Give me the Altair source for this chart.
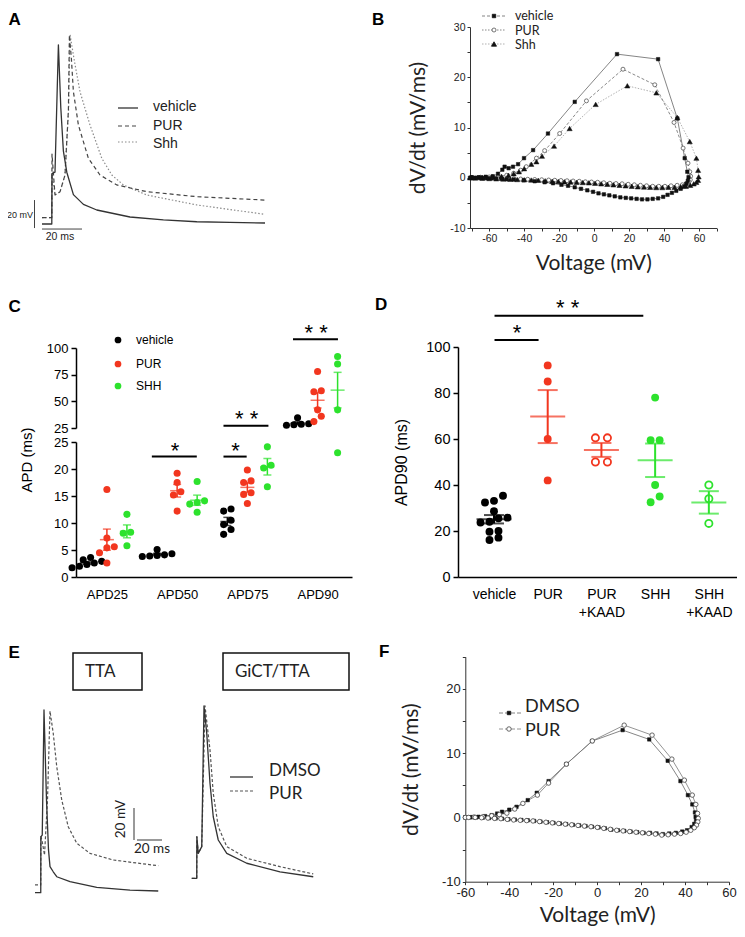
import altair as alt
import pandas as pd

# ======================= DATA =======================
# ---- Panel A : action potentials (time ms, membrane potential mV)
A_vehicle_t = [1, 5.9, 6.0, 7.5, 9.2, 10.4, 11.7, 13.4, 16.7, 21.7, 28.4, 45, 61.7, 78.4, 95, 112.5]
A_vehicle_v = [-70, -70, -34, -33, 58, 13, -18, -33, -49, -56, -60, -65, -67, -68.4, -68.8, -69.3]
A_PUR_t = [1, 5.9, 6.0, 7.5, 10, 12.5, 14.2, 14.7, 15.7, 16.7, 19.2, 24.2, 30, 38.4, 53.4, 78.4, 112.5]
A_PUR_v = [-65.5, -65.5, -20, -49.3, -47, -35, 11.4, 65, 48, 24.5, 0.7, -23.1, -35, -42.1, -46.9, -50.5, -52.9]
A_Shh_t = [1, 5.9, 6.0, 7.5, 10, 12.5, 14.3, 15.0, 17, 20, 25, 30.9, 35.9, 41.7, 53.4, 78.4, 112.5]
A_Shh_v = [-65.5, -65.5, -33.6, -49.3, -47, -35, 12, 65.5, 48, 24.5, 0.7, -23.1, -35, -42.1, -49.3, -56.4, -63.1]
A_scalebar_t = [-2.75, -2.75, 1, 21]
A_scalebar_v = [-52.9, -72.9, -73.6, -73.6]

# ---- Panel B : phase plots (Vm mV, dV/dt mV/ms)
B_vehicle_V = [-70, -66, -62, -58, -55, -52.5, -51.2, -48.9, -46.4, -43.5, -40.1, -34.9, -26.4, -11.1, 13.1,
               36.6, 47.6, 51.8, 53.3, 54.0,
               53.6, 52.8, 51.5, 49.5, 47.0, 44.5, 42.0, 39.5, 36.6, 33.5, 30.5, 27.4, 24.3, 21.2, 18.1,
               15.0, 11.8, 8.7, 5.6, 2.5, -0.6, -3.9, -7.5, -11.1, -14.9, -18.7, -23.5, -28.3, -34.0,
               -40.3, -46.0, -50.0, -53.1, -56.0, -58.5, -61.0, -63.0, -65.0, -67.0, -69.0, -71.0]
B_vehicle_dV = [0.1, 0.1, 0.2, 0.3, 0.8, 1.6, 2.2, 1.9, 2.2, 2.7, 3.9, 5.5, 8.8, 15.1, 24.6,
                23.6, 11.8, 3.9, 1.2, 0.1,
                -0.6, -1.2, -1.7, -2.2, -2.6, -3.0, -3.4, -3.8, -4.1, -4.2, -4.3, -4.3, -4.2, -4.1, -4.0,
                -3.9, -3.7, -3.5, -3.3, -3.1, -2.8, -2.5, -2.2, -1.9, -1.6, -1.4, -1.1, -0.9, -0.7,
                -0.5, -0.35, -0.3, -0.2, -0.15, -0.1, -0.1, -0.05, 0, 0, 0, 0]
B_PUR_V = [-70, -65, -60, -55, -50, -46, -42, -38.8, -33.0, -28.3, -19.7, -4.4, 16.5, 34.7, 45.7, 50.9,
           53.7, 54.7, 55.2,
           55.0, 54.2, 52.8, 50.5, 47.5, 44.0, 40.5, 37.0, 33.5, 30.0, 26.5, 23.0, 19.5, 16.0, 12.5,
           9.0, 5.5, 2.0, -1.5, -5.0, -8.5, -12.0, -15.5, -19.0, -22.5, -26.0, -30.0, -34.0, -38.0,
           -42.0, -46.0, -50.0, -54.0, -58.0, -62.0, -66.0, -70.0]
B_PUR_dV = [0.05, 0.1, 0.15, 0.25, 0.5, 0.9, 1.5, 2.2, 3.9, 5.4, 8.8, 15.3, 21.6, 18.5, 11.0, 5.9,
            2.9, 1.2, 0.3,
            -0.4, -0.8, -1.1, -1.4, -1.5, -1.6, -1.7, -1.7, -1.7, -1.6, -1.5, -1.4, -1.3, -1.2, -1.15,
            -1.1, -1.0, -0.9, -0.85, -0.8, -0.7, -0.65, -0.6, -0.55, -0.5, -0.45, -0.4, -0.35, -0.3,
            -0.25, -0.2, -0.15, -0.1, -0.05, 0, 0, 0]
B_Shh_V = [-70, -64, -58, -53, -49, -46, -43, -40, -35.9, -33.0, -29.8, -22.9, -14.0, 0.9, 19.0, 35.6,
           47.6, 54.7, 58.5, 59.5, 59.8,
           59.5, 58.5, 57.0, 55.0, 52.5, 49.5, 46.0, 42.5, 39.0, 35.5, 32.0, 28.5, 25.0, 21.5, 18.0,
           14.5, 11.0, 7.5, 4.0, 0.5, -3.0, -6.5, -10.0, -13.5, -17.0, -20.5, -24.0, -28.0, -32.0,
           -36.0, -40.0, -44.0, -48.0, -52.0, -56.0, -60.0, -64.0, -68.0, -71.0]
B_Shh_dV = [0.05, 0.1, 0.2, 0.3, 0.5, 0.8, 1.2, 1.8, 2.7, 3.2, 4.3, 6.3, 9.8, 14.6, 18.3, 16.9,
            12.0, 7.2, 3.9, 1.5, 0.2,
            -0.5, -0.9, -1.2, -1.5, -1.7, -1.8, -1.9, -1.9, -1.95, -1.95, -1.9, -1.85, -1.8, -1.7, -1.6,
            -1.5, -1.4, -1.3, -1.2, -1.1, -1.0, -0.95, -0.9, -0.85, -0.8, -0.75, -0.7, -0.6, -0.5,
            -0.45, -0.4, -0.35, -0.3, -0.25, -0.2, -0.15, -0.1, -0.05, 0]

# ---- Panel C : APD (ms), per parameter and group
C_categories = ["APD25", "APD50", "APD75", "APD90"]
C_vehicle_APD25 = [1.7, 2.0, 2.3, 2.6, 2.9, 3.2, 3.6]
C_vehicle_APD50 = [3.8, 3.9, 4.0, 4.1, 4.3, 5.1]
C_vehicle_APD75 = [7.9, 8.8, 9.7, 10.5, 12.2, 12.6]
C_vehicle_APD90 = [27.5, 28.0, 28.5, 29.0, 34.5]
C_PUR_APD25 = [16.2, 7.2, 5.6, 5.4, 4.5, 2.6]
C_PUR_APD50 = [19.2, 17.5, 15.8, 15.2, 12.2]
C_PUR_APD75 = [19.8, 17.8, 17.5, 15.6, 15.3, 13.6]
C_PUR_APD90 = [78, 60, 59, 42, 36, 31]
C_SHH_APD25 = [11.6, 8.3, 8.1, 5.8]
C_SHH_APD50 = [17.7, 14.1, 13.8, 13.5, 12.0]
C_SHH_APD75 = [24.1, 20.7, 20.2, 16.7]
C_SHH_APD90 = [92, 85, 42, 23]

# ---- Panel D : APD90 (ms)
D_categories = ["vehicle", "PUR", "PUR+KAAD", "SHH", "SHH+KAAD"]
D_vehicle = [35.3, 33.1, 32.4, 28.6, 25.8, 25.5, 24.0, 23.7, 20.0, 19.7, 17.1, 16.1]
D_PUR = [92, 85, 60, 42]
D_PUR_KAAD = [60.5, 60.5, 50, 50]
D_SHH = [78, 59.5, 59.5, 40, 35, 32.5]
D_SHH_KAAD = [40, 34, 23.3]

# ---- Panel E : APs (time ms, mV)
E_TTA_DMSO_t = [0, 4.6, 4.7, 5.8, 7.2, 9.2, 10.8, 12.0, 14.6, 17.4, 28.0, 49.4, 76.0, 98.6]
E_TTA_DMSO_v = [-70, -70, -33.9, -32.8, 47.9, -10.2, -42.4, -53.2, -56.5, -59.7, -62.9, -66.5, -68.3, -68.9]
E_TTA_PUR_t = [0, 4.6, 4.7, 6.0, 7.6, 10.0, 12.0, 14.6, 17.4, 21.4, 26.6, 33.4, 44.0, 62.6, 98.6]
E_TTA_PUR_v = [-65, -65, -33.4, -38, -45.7, -10.2, 47.2, 32.8, 11.3, -10.2, -27.4, -38.1, -44.6, -48.9, -52.6]
E_GiCT_DMSO_t = [1.4, 5.4, 5.5, 6.6, 9.4, 11.2, 13.4, 16.0, 18.6, 22.6, 29.4, 45.4, 72.0, 98.6]
E_GiCT_DMSO_v = [-60.7, -60.7, -33.9, -44.6, -40.3, 50.5, 32.8, 0.6, -21.0, -36.0, -44.6, -51.0, -56.5, -59.7]
E_GiCT_PUR_t = [1.4, 5.4, 5.5, 6.6, 9.4, 12.0, 16.0, 18.6, 22.6, 29.4, 45.4, 72.0, 98.6]
E_GiCT_PUR_v = [-60.7, -60.7, -33.9, -44.6, -40.3, 50.5, 22.1, -5.8, -27.4, -40.3, -47.8, -53.2, -57.9]
E_scalebar_t = [79.2, 79.2, 81.6, 101.6]
E_scalebar_v = [-15.4, -36.0, -36.0, -36.0]

# ---- Panel F : phase plots
F_DMSO_V = [-60, -57, -54, -51, -48, -45.5, -43.3, -40, -36.7, -31.6, -27.5, -22.1, -14.0, -2.3, 11.6,
            23.7, 32.1, 37.9, 41.3, 43.3, 44.5, 44.8,
            45.0, 44.2, 43.0, 40.9, 38.7, 35.8, 32.8, 29.9, 27.0, 24.0, 21.1, 18.2, 15.2, 12.3, 9.4,
            6.4, 3.5, 0.6, -2.4, -5.3, -8.2, -11.1, -14.1, -17.0, -19.9, -22.8, -25.8, -28.7, -31.6,
            -34.5, -37.5, -40.4, -43.3, -46.2, -49.2, -52.1, -55.0, -58.0, -60.0]
F_DMSO_dV = [0, 0.05, 0.1, 0.2, 0.35, 0.6, 0.88, 1.2, 1.65, 2.69, 3.83, 5.65, 8.29, 11.87, 13.58,
             12.13, 8.81, 5.65, 3.47, 2.02, 0.77, 0.1,
             -0.4, -1.0, -1.5, -2.0, -2.2, -2.4, -2.5, -2.6, -2.5, -2.4, -2.4, -2.3, -2.2, -2.1, -2.0,
             -1.9, -1.7, -1.55, -1.45, -1.35, -1.25, -1.15, -1.05, -0.95, -0.85, -0.75, -0.65, -0.55,
             -0.45, -0.4, -0.35, -0.3, -0.2, -0.15, -0.1, -0.05, 0, 0, 0]
F_PUR_V = [-60, -56, -52, -48, -44.5, -41.1, -37.5, -33.8, -27.2, -22.1, -14.0, -2.2, 12.3, 25.0, 34.0,
           39.7, 43.3, 44.9, 45.7, 46.0,
           45.8, 45.2, 44.2, 42.6, 40.5, 38.0, 35.2, 32.3, 29.4, 26.5, 23.5, 20.6, 17.7, 14.8, 11.8,
           8.9, 6.0, 3.0, 0.1, -2.8, -5.8, -8.7, -11.6, -14.5, -17.5, -20.4, -23.3, -26.2, -29.2,
           -32.1, -35.0, -38.0, -40.9, -43.8, -46.7, -49.7, -52.6, -55.5, -58.5]
F_PUR_dV = [0, 0.05, 0.1, 0.25, 0.45, 0.66, 1.3, 2.18, 3.47, 5.34, 8.29, 11.9, 14.35, 12.8, 9.07,
            5.8, 3.47, 2.02, 0.62, -0.15,
            -0.7, -1.2, -1.6, -2.0, -2.3, -2.5, -2.6, -2.7, -2.75, -2.6, -2.5, -2.4, -2.3, -2.2, -2.1,
            -2.0, -1.85, -1.7, -1.55, -1.45, -1.35, -1.25, -1.15, -1.05, -0.95, -0.85, -0.75, -0.65,
            -0.55, -0.5, -0.45, -0.4, -0.3, -0.2, -0.15, -0.1, -0.05, 0, 0]

# ======================= LAYOUT / STYLE =======================
W, H = 729, 921


def P(v):
    return v - 8  # page pixel -> chart pixel


SANS = "Liberation Sans"
HUM = "Lato"
INK = "#222222"
RED = "#f2361f"
GREEN = "#2de22d"

layers = []


def one():
    return pd.DataFrame({"k": [0]})


def sc(domain, r0, r1):
    return alt.Scale(domain=list(domain), range=[P(r0), P(r1)], nice=False, zero=False)


def text(s, x, y, size, font=SANS, weight="normal", align="left", baseline="middle", angle=0, color=INK):
    mk = dict(text=s, fontSize=size, font=font, fontWeight=weight, align=align, baseline=baseline, color=color)
    if angle:
        mk["angle"] = angle
    return alt.Chart(one()).mark_text(**mk).encode(x=alt.value(P(x)), y=alt.value(P(y)))


def hseg(x1, x2, y, color, width=1.2, dash=None):
    mk = dict(color=color, strokeWidth=width)
    if dash:
        mk["strokeDash"] = dash
    return alt.Chart(one()).mark_rule(**mk).encode(x=alt.value(P(x1)), x2=alt.value(P(x2)), y=alt.value(P(y)))


def sym(x, y, shape, size, fill, stroke, sw=0.8):
    return alt.Chart(one()).mark_point(shape=shape, size=size, filled=True, fill=fill, stroke=stroke,
                                       strokeWidth=sw, opacity=1).encode(x=alt.value(P(x)), y=alt.value(P(y)))


def path(xs, ys, xsc, ysc, color, width=1.2, dash=None, xaxis=None, yaxis=None):
    df = pd.DataFrame({"x": xs, "y": ys, "i": list(range(len(xs)))})
    mk = dict(color=color, strokeWidth=width, strokeJoin="round")
    if dash:
        mk["strokeDash"] = dash
    return alt.Chart(df).mark_line(**mk).encode(
        x=alt.X("x:Q", scale=xsc, axis=xaxis),
        y=alt.Y("y:Q", scale=ysc, axis=yaxis),
        order=alt.Order("i:Q"))


def pts(xs, ys, xsc, ysc, shape, size, fill, stroke, sw=0.8):
    df = pd.DataFrame({"x": xs, "y": ys})
    return alt.Chart(df).mark_point(shape=shape, size=size, filled=True, fill=fill, stroke=stroke,
                                    strokeWidth=sw, opacity=1).encode(
        x=alt.X("x:Q", scale=xsc, axis=None), y=alt.Y("y:Q", scale=ysc, axis=None))


def yax(xpage, values, **kw):
    d = dict(orient="left", offset=-P(xpage), values=values, grid=False, labelFlush=False, labelOverlap=False)
    d.update(kw)
    return alt.Axis(**d)


def xax(ypage, values, **kw):
    d = dict(orient="bottom", offset=P(ypage) - H, values=values, grid=False, labelFlush=False, labelOverlap=False)
    d.update(kw)
    return alt.Axis(**d)


# ---------- panel letters ----------
for s, x, y in [("A", 8.5, 24.5), ("B", 372, 24.5), ("C", 8.5, 312), ("D", 375, 310), ("E", 8.5, 658),
                ("F", 379, 657)]:
    layers.append(text(s, x, y, 17, weight="bold", align="left", baseline="alphabetic", color="#000"))

# ======================= PANEL A =======================
A_x = sc([0, 112.5], 40, 265)
A_y = sc([-70, 60], 224, 42)
layers += [
    path(A_Shh_t, A_Shh_v, A_x, A_y, "#8a8a8a", 1.2, [1.5, 2]),
    path(A_PUR_t, A_PUR_v, A_x, A_y, "#444", 1.2, [4, 3]),
    path(A_vehicle_t, A_vehicle_v, A_x, A_y, "#333", 1.3),
]
sbA = pd.DataFrame({"x": A_scalebar_t[0::2], "x2": A_scalebar_t[1::2],
                    "y": A_scalebar_v[0::2], "y2": A_scalebar_v[1::2]})
layers.append(alt.Chart(sbA).mark_rule(color="#444", strokeWidth=1).encode(
    x=alt.X("x:Q", scale=A_x, axis=None), x2="x2:Q",
    y=alt.Y("y:Q", scale=A_y, axis=None), y2="y2:Q"))
layers += [
    text("20 mV", 33, 215, 9, align="right"),
    text("20 ms", 60, 237, 10.5, align="center"),
    hseg(118, 138, 108, "#333", 1.3),
    hseg(118, 138, 126, "#444", 1.2, [4, 3]),
    hseg(118, 138, 142, "#8a8a8a", 1.2, [1.5, 2]),
    text("vehicle", 153, 107, 14),
    text("PUR", 153, 126, 14),
    text("Shh", 153, 144, 14),
]

# ======================= PANEL B =======================
B_x = sc([-71, 70], 470, 716.5)
B_y = sc([-10, 30], 228, 27)
axc = dict(domainColor="#333", tickColor="#333", labelColor=INK, tickSize=3, labelFont=SANS,
           titleFont=HUM, titleFontWeight="normal", titleColor=INK, titleFontSize=21)
bx_axis = xax(228, list(range(-70, 71, 10)), labelExpr="datum.value % 20 == 0 ? '' + datum.value : ''",
              title="Voltage (mV)", labelFontSize=10.5, labelPadding=2, titlePadding=9, **axc)
by_axis = yax(470, list(range(-10, 31, 5)), labelExpr="datum.value % 10 == 0 ? '' + datum.value : ''",
              title="dV/dt (mV/ms)", labelFontSize=10.5, labelPadding=2, titlePadding=21, **axc)
layers += [
    path(B_Shh_V, B_Shh_dV, B_x, B_y, "#a8a8a8", 0.9, [1.5, 1.5]),
    path(B_PUR_V, B_PUR_dV, B_x, B_y, "#7a7a7a", 0.9, [3, 2]),
    path(B_vehicle_V, B_vehicle_dV, B_x, B_y, "#777", 0.9, None, xaxis=bx_axis, yaxis=by_axis),
    pts(B_PUR_V, B_PUR_dV, B_x, B_y, "circle", 16, "white", "#555", 0.8),
    pts(B_Shh_V, B_Shh_dV, B_x, B_y, "triangle-up", 26, "#111", "#111", 0.5),
    pts(B_vehicle_V, B_vehicle_dV, B_x, B_y, "square", 12, "#111", "#111", 0.5),
]
layers += [
    hseg(482, 506, 16, "#777", 0.9, [3, 2]), sym(494, 16, "square", 12, "#111", "#111"),
    hseg(482, 506, 30, "#7a7a7a", 0.9, [1.5, 1.5]), sym(494, 30, "circle", 16, "white", "#555"),
    hseg(482, 506, 44, "#a8a8a8", 0.9, [1.5, 1.5]), sym(494, 44, "triangle-up", 26, "#111", "#111"),
    text("vehicle", 515, 16, 12.5, font=HUM),
    text("PUR", 515, 30.5, 12.5, font=HUM),
    text("Shh", 515, 45, 12.5, font=HUM),
]


# ======================= helpers for scatter panels =======================
def swarm(vals, ypix, diam, spacing):
    order = sorted(range(len(vals)), key=lambda i: vals[i])
    offs = [0.0] * len(vals)
    rows = []
    for i in order:
        yp = ypix(vals[i])
        if rows and abs(yp - rows[-1][0]) < diam * 0.9:
            rows[-1][1].append(i)
        else:
            rows.append([yp, [i]])
    for _, members in rows:
        n = len(members)
        for k, i in enumerate(members):
            offs[i] = (k - (n - 1) / 2) * spacing
    return offs


def mean_sem(vals):
    s = pd.Series(vals, dtype=float)
    m = s.mean()
    e = s.std(ddof=1) / (len(s) ** 0.5)
    return m, e


# ======================= PANEL C =======================
C_x = sc([-0.44, 3.49], 76, 352)
C_ylow = sc([0, 25], 577, 442)
C_yup = sc([25, 100], 428, 348)
C_ppu = (352 - 76) / (3.49 + 0.44)


def C_ypage(v):
    return 577 - v * 5.4 if v < 25 else 428 - (v - 25) * 80 / 75


C_groups = [("vehicle", "#000000", -0.285,
             [C_vehicle_APD25, C_vehicle_APD50, C_vehicle_APD75, C_vehicle_APD90]),
            ("PUR", RED, 0.0, [C_PUR_APD25, C_PUR_APD50, C_PUR_APD75, C_PUR_APD90]),
            ("SHH", GREEN, 0.285, [C_SHH_APD25, C_SHH_APD50, C_SHH_APD75, C_SHH_APD90])]
c_pts, c_err = [], []
for g, col, goff, lists in C_groups:
    for ci, vals in enumerate(lists):
        offs = swarm(vals, C_ypage, 7.3, 7.4)
        for v, o in zip(vals, offs):
            c_pts.append({"x": ci + goff + o / C_ppu, "y": v, "col": col, "seg": "up" if v >= 25 else "low"})
        m, e = mean_sem(vals)
        c_err.append({"x": ci + goff, "m": m, "lo": m - e, "hi": m + e, "col": col,
                      "seg": "up" if m >= 25 else "low"})
c_pts = pd.DataFrame(c_pts)
c_err = pd.DataFrame(c_err)

cax = dict(domainColor="#000", tickColor="#000", labelColor="#000", domainWidth=1.5, tickWidth=1.5,
           labelFont=SANS, labelFontSize=13, title=None)
c_x_axis = xax(577, [0, 1, 2, 3], labelExpr="['APD25','APD50','APD75','APD90'][datum.value]",
               ticks=False, labelPadding=11, labelFontSize=13, domainColor="#000", domainWidth=1.5,
               labelColor="#000", labelFont=SANS, title=None)
c_ylow_axis = yax(76, [0, 5, 10, 15, 20, 25], tickSize=5, labelPadding=3, **cax)
c_yup_axis = yax(76, [25, 50, 75, 100], tickSize=5, labelPadding=3, **cax)

for seg, ysc in [("low", C_ylow), ("up", C_yup)]:
    e = c_err[c_err.seg == seg]
    p = c_pts[c_pts.seg == seg]
    layers.append(alt.Chart(e).mark_rule(strokeWidth=1.5).encode(
        x=alt.X("x:Q", scale=C_x, axis=None), y=alt.Y("lo:Q", scale=ysc, axis=None), y2="hi:Q",
        color=alt.Color("col:N", scale=None)))
    for fld, sz in [("m", 14), ("lo", 8), ("hi", 8)]:
        layers.append(alt.Chart(e).mark_tick(orient="horizontal", size=sz, thickness=1.5).encode(
            x=alt.X("x:Q", scale=C_x, axis=None), y=alt.Y(f"{fld}:Q", scale=ysc, axis=None),
            color=alt.Color("col:N", scale=None)))
    layers.append(alt.Chart(p).mark_point(shape="circle", size=50, filled=True, opacity=1).encode(
        x=alt.X("x:Q", scale=C_x, axis=c_x_axis if seg == "low" else None),
        y=alt.Y("y:Q", scale=ysc, axis=c_ylow_axis if seg == "low" else c_yup_axis),
        color=alt.Color("col:N", scale=None)))

# significance bars C
C_sig_low = pd.DataFrame({"x": [0.64, 1.66], "x2": [1.28, 1.99], "y": [22.3, 22.3],
                          "sx": [0.97, 1.83], "sy": [24.3, 24.3], "s": ["*", "*"]})
C_sig_up = pd.DataFrame({"x": [1.66, 2.65], "x2": [2.30, 3.29], "y": [27.2, 108.1],
                         "sx": [1.99, 2.98], "sy": [38.1, 118.4], "s": ["* *", "* *"]})
for d, ysc in [(C_sig_low, C_ylow), (C_sig_up, C_yup)]:
    layers.append(alt.Chart(d).mark_rule(color="#000", strokeWidth=2).encode(
        x=alt.X("x:Q", scale=C_x, axis=None), x2="x2:Q", y=alt.Y("y:Q", scale=ysc, axis=None)))
    layers.append(alt.Chart(d).mark_text(font=SANS, fontSize=22, color="#000", baseline="alphabetic",
                                         dy=12).encode(
        x=alt.X("sx:Q", scale=C_x, axis=None), y=alt.Y("sy:Q", scale=ysc, axis=None), text="s:N"))

layers += [
    sym(118, 340, "circle", 45, "#000", "#000", 0), text("vehicle", 136, 340, 12, color="#000"),
    sym(118, 364, "circle", 45, RED, RED, 0), text("PUR", 136, 364, 12, color="#000"),
    sym(118, 386, "circle", 45, GREEN, GREEN, 0), text("SHH", 136, 386, 12, color="#000"),
    text("APD (ms)", 27, 460, 15, align="center", angle=270, color="#000"),
]

# ======================= PANEL D =======================
D_x = sc([-0.67, 4.58], 458, 740)
D_y = sc([0, 100], 577, 347)
D_groups = [(D_vehicle, "#000000", True), (D_PUR, RED, True), (D_PUR_KAAD, RED, False),
            (D_SHH, GREEN, True), (D_SHH_KAAD, GREEN, False)]
d_pts, d_err = [], []
for gi, (vals, col, filled) in enumerate(D_groups):
    offs = swarm(vals, lambda v: 577 - 2.3 * v, 8.0, 12.0 if not filled else 9.0)
    for v, o in zip(vals, offs):
        d_pts.append({"x": gi + o / 53.7, "y": v, "col": col, "filled": filled})
    m, e = mean_sem(vals)
    d_err.append({"x": gi, "m": m, "lo": m - e, "hi": m + e, "col": col})
d_pts = pd.DataFrame(d_pts)
d_err = pd.DataFrame(d_err)

d_x_axis = xax(577, [0, 1, 2, 3, 4],
               labelExpr="[['vehicle'],['PUR'],['PUR','+KAAD'],['SHH'],['SHH','+KAAD']][datum.value]",
               ticks=False, labelPadding=10, labelFontSize=14, labelLineHeight=18, domainColor="#000",
               domainWidth=1.5, labelColor="#000", labelFont=SANS, title=None)
d_y_axis = yax(458, [0, 20, 40, 60, 80, 100], tickSize=5, labelPadding=3, domainColor="#000",
               tickColor="#000", labelColor="#000", domainWidth=1.5, tickWidth=1.5, labelFont=SANS,
               labelFontSize=14.5, title="APD90 (ms)", titleFont=SANS, titleFontSize=16,
               titleFontWeight="normal", titleColor="#000", titlePadding=16)

layers.append(alt.Chart(d_err).mark_rule(strokeWidth=2).encode(
    x=alt.X("x:Q", scale=D_x, axis=None), y=alt.Y("lo:Q", scale=D_y, axis=None), y2="hi:Q",
    color=alt.Color("col:N", scale=None)))
for fld, sz in [("m", 35), ("lo", 20), ("hi", 20)]:
    layers.append(alt.Chart(d_err).mark_tick(orient="horizontal", size=sz, thickness=2).encode(
        x=alt.X("x:Q", scale=D_x, axis=None), y=alt.Y(f"{fld}:Q", scale=D_y, axis=None),
        color=alt.Color("col:N", scale=None)))
layers.append(alt.Chart(d_pts[d_pts.filled]).mark_point(shape="circle", size=62, filled=True, opacity=1).encode(
    x=alt.X("x:Q", scale=D_x, axis=d_x_axis), y=alt.Y("y:Q", scale=D_y, axis=d_y_axis),
    color=alt.Color("col:N", scale=None)))
layers.append(alt.Chart(d_pts[~d_pts.filled]).mark_point(shape="circle", size=52, filled=False,
                                                         strokeWidth=1.8, opacity=1).encode(
    x=alt.X("x:Q", scale=D_x, axis=None), y=alt.Y("y:Q", scale=D_y, axis=None),
    color=alt.Color("col:N", scale=None)))
D_sig = pd.DataFrame({"x": [0.01, 0.01], "x2": [0.83, 2.78], "y": [103.0, 113.6],
                      "sx": [0.43, 1.37], "sy": [108.1, 119.0], "s": ["*", "* *"]})
layers.append(alt.Chart(D_sig).mark_rule(color="#000", strokeWidth=2).encode(
    x=alt.X("x:Q", scale=D_x, axis=None), x2="x2:Q", y=alt.Y("y:Q", scale=D_y, axis=None)))
layers.append(alt.Chart(D_sig).mark_text(font=SANS, fontSize=22, color="#000", baseline="alphabetic",
                                         dy=12).encode(
    x=alt.X("sx:Q", scale=D_x, axis=None), y=alt.Y("sy:Q", scale=D_y, axis=None), text="s:N"))

# ======================= PANEL E =======================
E_y = sc([-70, 50], 892.7, 706.7)
E_xl = sc([0, 100], 35, 160)
E_xr = sc([0, 100], 190, 315)
layers += [
    path(E_TTA_PUR_t, E_TTA_PUR_v, E_xl, E_y, "#555", 1.2, [3, 2]),
    path(E_TTA_DMSO_t, E_TTA_DMSO_v, E_xl, E_y, "#333", 1.3),
    path(E_GiCT_PUR_t, E_GiCT_PUR_v, E_xr, E_y, "#555", 1.2, [3, 2]),
    path(E_GiCT_DMSO_t, E_GiCT_DMSO_v, E_xr, E_y, "#333", 1.3),
]
sbE = pd.DataFrame({"x": E_scalebar_t[0::2], "x2": E_scalebar_t[1::2],
                    "y": E_scalebar_v[0::2], "y2": E_scalebar_v[1::2]})
layers.append(alt.Chart(sbE).mark_rule(color="#555", strokeWidth=1.2).encode(
    x=alt.X("x:Q", scale=E_xl, axis=None), x2="x2:Q",
    y=alt.Y("y:Q", scale=E_y, axis=None), y2="y2:Q"))
for x1, x2, lab, tx in [(73, 142, "TTA", 85), (223, 349, "GiCT/TTA", 235)]:
    layers.append(alt.Chart(one()).mark_rect(fillOpacity=0, stroke="#111", strokeWidth=1.5).encode(
        x=alt.value(P(x1)), x2=alt.value(P(x2)), y=alt.value(P(653)), y2=alt.value(P(690))))
    layers.append(text(lab, tx, 672, 17, font=HUM))
layers += [
    text("20 mV", 121, 819, 13.5, font=HUM, align="center", angle=270),
    text("20 ms", 152, 849, 13.5, font=HUM, align="center"),
    hseg(230, 253, 777, "#333", 1.3),
    hseg(230, 253, 791, "#555", 1.2, [3, 2]),
    text("DMSO", 269, 771, 17, font=HUM),
    text("PUR", 269, 794, 17, font=HUM),
]

# ======================= PANEL F =======================
F_x = sc([-60, 60], 465.3, 729)
F_y = sc([-10, 25], 881.7, 656.7)
fx_axis = xax(881.7, list(range(-60, 61, 10)), labelExpr="datum.value % 20 == 0 ? '' + datum.value : ''",
              title="Voltage (mV)", labelFontSize=13, labelPadding=2, titlePadding=5, **axc)
fy_axis = yax(465.3, list(range(-10, 26, 5)), labelExpr="datum.value % 10 == 0 ? '' + datum.value : ''",
              title="dV/dt (mV/ms)", labelFontSize=13, labelPadding=2, titlePadding=20, **axc)
layers += [
    path(F_PUR_V, F_PUR_dV, F_x, F_y, "#888", 0.9),
    path(F_DMSO_V, F_DMSO_dV, F_x, F_y, "#777", 0.9, None, xaxis=fx_axis, yaxis=fy_axis),
    pts(F_DMSO_V, F_DMSO_dV, F_x, F_y, "square", 12, "#111", "#111", 0.5),
    pts(F_PUR_V, F_PUR_dV, F_x, F_y, "circle", 20, "white", "#444", 0.8),
    hseg(499, 521, 713, "#777", 0.9, [4, 2]), sym(509, 713, "square", 12, "#111", "#111"),
    hseg(499, 521, 729, "#888", 0.9, [4, 2]), sym(509, 729, "circle", 20, "white", "#444"),
    text("DMSO", 525, 707, 18, font=HUM),
    text("PUR", 525, 731, 18, font=HUM),
]

chart = alt.layer(*layers).resolve_scale(x="independent", y="independent").properties(
    width=W, height=H, padding=0, autosize=alt.AutoSizeParams(type="none"), background="white"
).configure_view(stroke=None)

chart.save("out.html", embed_options={"renderer": "svg", "actions": False})
